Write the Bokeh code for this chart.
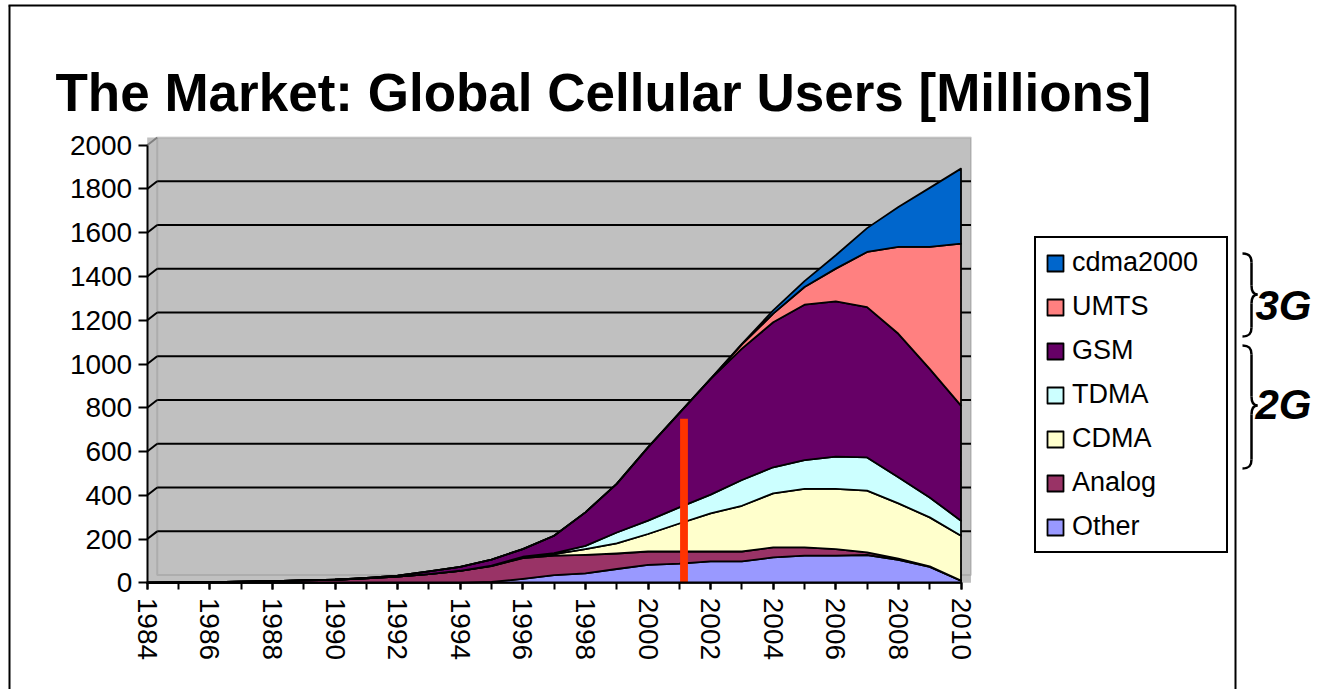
import numpy as np
from bokeh.plotting import figure
from bokeh.models import Range1d, SingleIntervalTicker, Legend, LegendItem, BoxAnnotation
from bokeh.embed import file_html
from bokeh.resources import INLINE
from bokeh.core.properties import value

# ---------------- data ----------------
years = list(range(1984, 2011))
other    = [0, 0, 0, 0, 0, 0, 0, 0, 0, 0, 0, 4, 18, 35, 43, 63, 82, 88, 98, 98, 116, 124, 124, 127, 105, 73, 10]
analog   = [1, 2, 3, 5, 8, 11, 14, 20, 28, 40, 55, 72, 95, 89, 85, 71, 61, 55, 45, 45, 46, 38, 30, 12, 5, 2, 0]
cdma     = [0, 0, 0, 0, 0, 0, 0, 0, 0, 0, 0, 1, 3, 7, 26, 46, 80, 128, 174, 209, 247, 267, 275, 282, 253, 224, 205]
tdma     = [0, 0, 0, 0, 0, 0, 0, 0, 0, 0, 0, 1, 3, 5, 15, 50, 61, 74, 86, 118, 119, 132, 148, 152, 119, 91, 69]
gsm      = [0, 0, 0, 0, 0, 0, 0, 2, 5, 12, 18, 28, 35, 79, 153, 222, 335, 430, 529, 600, 663, 710, 709, 687, 656, 588, 526]
umts     = [0] * 19 + [20, 39, 81, 150, 252, 397, 557, 740]
cdma2000 = [0] * 19 + [2, 15, 27, 61, 109, 183, 270, 343]

series_names  = ["Other", "Analog", "CDMA", "TDMA", "GSM", "UMTS", "cdma2000"]
series_values = [other, analog, cdma, tdma, gsm, umts, cdma2000]
series_colors = ["#9999FF", "#993366", "#FFFFCC", "#CCFFFF", "#660066", "#FF8080", "#0066CC"]

marker_year  = [2001.15]
marker_value = [750]

grid_values = [200, 400, 600, 800, 1000, 1200, 1400, 1600, 1800]

title_text = "The Market: Global Cellular Users [Millions]"
group_labels = ["3G", "2G"]
group_label_y = [305, 404]
brace_spans = [(253, 336, 294), (345, 468, 405)]

FONT = "Liberation Sans"

# ---------------- geometry / scales (page pixels) ----------------
W, H = 1318, 689                     # canvas covers the whole window
PX_PER_YEAR = 31.3
PX_PER_UNIT = 0.2188
X0_PAGE, Y0_PAGE = 146.7, 582.3      # page position of (1984, 0)
DEPTH_X, DEPTH_Y = 10.0, 7.7         # 3D back-wall offset in pixels

x_start = 1984 - X0_PAGE / PX_PER_YEAR
x_end = 1984 + (W - X0_PAGE) / PX_PER_YEAR
y_start = -(H - Y0_PAGE) / PX_PER_UNIT
y_end = Y0_PAGE / PX_PER_UNIT
dyear = DEPTH_X / PX_PER_YEAR
dunit = DEPTH_Y / PX_PER_UNIT

p = figure(width=W, height=H, output_backend="svg", toolbar_location=None, title=None,
           x_range=Range1d(x_start, x_end), y_range=Range1d(y_start, y_end),
           min_border=0)
p.outline_line_color = None
p.background_fill_color = "white"
p.border_fill_color = "white"
p.xgrid.visible = False
p.ygrid.visible = False

p.extra_x_ranges = {"back": Range1d(x_start - dyear, x_end - dyear),
                    "px": Range1d(0, W)}
p.extra_y_ranges = {"back": Range1d(y_start - dunit, y_end - dunit),
                    "py": Range1d(H, 0)}

# gray plot area (3D walls)
p.add_layout(BoxAnnotation(left=1984, right=2010 + dyear, bottom=0, top=2000 + dunit,
                           fill_color="#C0C0C0", fill_alpha=1, line_color=None,
                           level="underlay"))
p.add_layout(BoxAnnotation(left=1984, right=2010, bottom=0, top=2000,
                           x_range_name="back", y_range_name="back",
                           fill_alpha=0, line_color="#808080", line_width=2,
                           level="underlay"))

# back-wall gridlines and slanted side-wall ticks
p.segment(x0=1984, x1=2010, y0=grid_values, y1=grid_values,
          x_range_name="back", y_range_name="back", line_color="black", line_width=2)
p.segment(x0=1984, x1=1984 + dyear, y0=grid_values, y1=[v + dunit for v in grid_values],
          line_color="black", line_width=2)
p.segment(x0=[1984], x1=[1984 + dyear], y0=[2000], y1=[2000 + dunit],
          line_color="#808080", line_width=2)

# stacked areas
xs = np.array(years, dtype=float)
stack = np.array(series_values, dtype=float)
tops = np.cumsum(stack, axis=0)
bottoms = tops - stack

rends = {}
for name, color, top, bot in zip(series_names, series_colors, tops, bottoms):
    r = p.patch(np.concatenate([xs, xs[::-1]]), np.concatenate([top, bot[::-1]]),
                fill_color=color, line_color="black", line_width=1.8, line_join="round")
    rends[name] = r

p.vbar(x=marker_year, top=marker_value, bottom=0, width=0.25,
       fill_color="#FF3300", line_color=None)

# axes drawn at fixed data locations
xa = p.xaxis[0]
xa.fixed_location = 0
xa.ticker = SingleIntervalTicker(interval=2, num_minor_ticks=2)
xa.bounds = (1984, 2010)
xa.major_label_orientation = "vertical"
xa.axis_line_width = 2
xa.major_tick_line_width = 2
xa.minor_tick_line_width = 2
xa.major_tick_in = 0
xa.major_tick_out = 7
xa.minor_tick_in = 0
xa.minor_tick_out = 7
xa.major_label_standoff = 8
xa.major_label_text_font = FONT
xa.major_label_text_font_size = "28px"
xa.major_label_text_color = "black"

ya = p.yaxis[0]
ya.fixed_location = 1984
ya.ticker = SingleIntervalTicker(interval=200, num_minor_ticks=0)
ya.bounds = (0, 2000)
ya.axis_line_width = 2
ya.major_tick_line_width = 2
ya.major_tick_in = 0
ya.major_tick_out = 9
ya.minor_tick_out = 0
ya.minor_tick_in = 0
ya.major_label_standoff = 6
ya.major_label_text_font = FONT
ya.major_label_text_font_size = "28px"
ya.major_label_text_color = "black"

# title
p.text(x=[55], y=[92], text=[title_text], x_range_name="px", y_range_name="py",
       text_font=value(FONT), text_font_style="bold", text_font_size="53px",
       text_baseline="alphabetic", text_align="left", text_color="black")

# slide frame
p.segment(x0=[8, 9, 1235], y0=[5, 5, 5], x1=[1235, 9, 1235], y1=[5, H, H],
          x_range_name="px", y_range_name="py", line_color="black", line_width=2)

# legend (location in pixels from the bottom-left corner)
items = [LegendItem(label=n, renderers=[rends[n]]) for n in reversed(series_names)]
legend = Legend(items=items, location=(1034, 136),
                label_text_font=FONT, label_text_font_size="27px", label_text_color="black",
                glyph_width=20, glyph_height=20, label_height=20, label_width=145,
                label_standoff=7, spacing=13, padding=9, margin=0,
                border_line_color="black", border_line_width=2, border_line_alpha=1,
                background_fill_color="white", background_fill_alpha=1)
p.add_layout(legend)

# braces + 3G / 2G
bx0, bxs, bxt, br = 1242.0, 1251.0, 1257.0, 9.0
bz = dict(x0=[], y0=[], x1=[], y1=[], cx0=[], cy0=[], cx1=[], cy1=[])
sg = dict(x0=[], y0=[], x1=[], y1=[])
for ytop, ybot, ym in brace_spans:
    for seg in [
        (bx0, ytop, bxs, ytop + br, bx0 + (bxs - bx0) * 0.8, ytop, bxs, ytop + br * 0.4),
        (bxs, ym - br, bxt, ym, bxs, ym - br * 0.4, bxs + (bxt - bxs) * 0.2, ym),
        (bxt, ym, bxs, ym + br, bxs + (bxt - bxs) * 0.2, ym, bxs, ym + br * 0.4),
        (bxs, ybot - br, bx0, ybot, bxs, ybot - br * 0.4, bx0 + (bxs - bx0) * 0.8, ybot),
    ]:
        for k, v in zip(["x0", "y0", "x1", "y1", "cx0", "cy0", "cx1", "cy1"], seg):
            bz[k].append(v)
    for seg in [(bxs, ytop + br, bxs, ym - br), (bxs, ym + br, bxs, ybot - br)]:
        for k, v in zip(["x0", "y0", "x1", "y1"], seg):
            sg[k].append(v)

p.bezier(line_color="black", line_width=2.5, x_range_name="px", y_range_name="py", **bz)
p.segment(line_color="black", line_width=2.5, x_range_name="px", y_range_name="py", **sg)
p.text(x=[1255, 1255], y=group_label_y, text=group_labels,
       x_range_name="px", y_range_name="py",
       text_font=value(FONT), text_font_style="bold italic", text_font_size="42px",
       text_baseline="middle", text_align="left", text_color="black")

open("out.html", "w").write(file_html(p, INLINE))
